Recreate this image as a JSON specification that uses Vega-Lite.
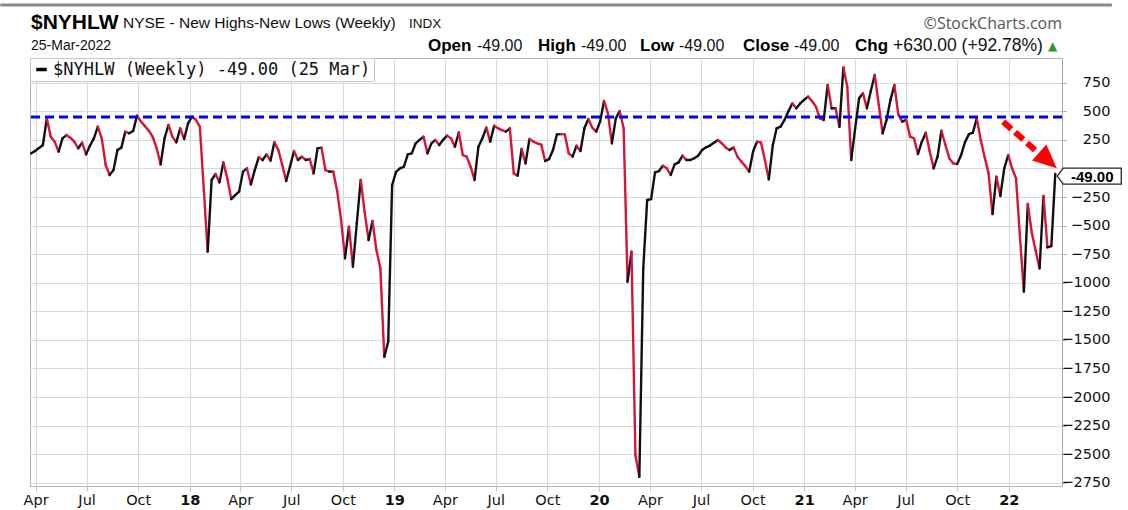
{
  "$schema": "https://vega.github.io/schema/vega-lite/v6.json",
  "width": 1032,
  "height": 428,
  "autosize": {"type": "none"},
  "padding": {"left": 30, "top": 58, "right": 66, "bottom": 24},
  "background": "white",
  "config": {"view": {"stroke": "#b4b4b4", "strokeWidth": 1}, "font": "Liberation Sans"},
  "data": {
    "format": {"parse": {"d": "date"}},
    "values": [
      {"d":"2017-03-24","v":132},{"d":"2017-03-31","v":152},{"d":"2017-04-07","v":178},{"d":"2017-04-14","v":205},{"d":"2017-04-21","v":438},{"d":"2017-04-28","v":278},{"d":"2017-05-05","v":234},{"d":"2017-05-12","v":147},{"d":"2017-05-19","v":263},{"d":"2017-05-26","v":292},
      {"d":"2017-06-02","v":269},{"d":"2017-06-09","v":234},{"d":"2017-06-16","v":176},{"d":"2017-06-23","v":225},{"d":"2017-06-30","v":123},{"d":"2017-07-07","v":200},{"d":"2017-07-14","v":263},{"d":"2017-07-21","v":365},{"d":"2017-07-28","v":263},{"d":"2017-08-04","v":30},
      {"d":"2017-08-11","v":-58},{"d":"2017-08-18","v":-14},{"d":"2017-08-25","v":161},{"d":"2017-09-01","v":182},{"d":"2017-09-08","v":322},{"d":"2017-09-15","v":307},{"d":"2017-09-22","v":327},{"d":"2017-09-29","v":462},{"d":"2017-10-06","v":410},{"d":"2017-10-13","v":370},
      {"d":"2017-10-20","v":330},{"d":"2017-10-27","v":275},{"d":"2017-11-03","v":176},{"d":"2017-11-10","v":36},{"d":"2017-11-17","v":263},{"d":"2017-11-24","v":380},{"d":"2017-12-01","v":278},{"d":"2017-12-08","v":228},{"d":"2017-12-15","v":351},{"d":"2017-12-22","v":257},
      {"d":"2017-12-29","v":395},{"d":"2018-01-05","v":453},{"d":"2018-01-12","v":424},{"d":"2018-01-19","v":365},{"d":"2018-01-26","v":-180},{"d":"2018-02-02","v":-728},{"d":"2018-02-09","v":-101},{"d":"2018-02-16","v":-49},{"d":"2018-02-23","v":-122},{"d":"2018-03-02","v":53},
      {"d":"2018-03-09","v":-87},{"d":"2018-03-16","v":-268},{"d":"2018-03-23","v":-233},{"d":"2018-03-30","v":-203},{"d":"2018-04-06","v":-28},{"d":"2018-04-13","v":1},{"d":"2018-04-20","v":-139},{"d":"2018-04-27","v":-14},{"d":"2018-05-04","v":97},{"d":"2018-05-11","v":74},
      {"d":"2018-05-18","v":123},{"d":"2018-05-25","v":68},{"d":"2018-06-01","v":228},{"d":"2018-06-08","v":161},{"d":"2018-06-15","v":30},{"d":"2018-06-22","v":-110},{"d":"2018-06-29","v":20},{"d":"2018-07-06","v":152},{"d":"2018-07-13","v":74},{"d":"2018-07-20","v":103},
      {"d":"2018-07-27","v":74},{"d":"2018-08-03","v":82},{"d":"2018-08-10","v":-43},{"d":"2018-08-17","v":176},{"d":"2018-08-24","v":182},{"d":"2018-08-31","v":-14},{"d":"2018-09-07","v":-28},{"d":"2018-09-14","v":-28},{"d":"2018-09-21","v":-200},{"d":"2018-09-28","v":-450},
      {"d":"2018-10-05","v":-786},{"d":"2018-10-12","v":-510},{"d":"2018-10-19","v":-860},{"d":"2018-10-26","v":-480},{"d":"2018-11-02","v":-101},{"d":"2018-11-09","v":-380},{"d":"2018-11-16","v":-626},{"d":"2018-11-23","v":-460},{"d":"2018-11-30","v":-714},{"d":"2018-12-07","v":-874},
      {"d":"2018-12-14","v":-1647},{"d":"2018-12-21","v":-1516},{"d":"2018-12-28","v":-145},{"d":"2019-01-04","v":-30},{"d":"2019-01-11","v":0},{"d":"2019-01-18","v":15},{"d":"2019-01-25","v":123},{"d":"2019-02-01","v":132},{"d":"2019-02-08","v":219},{"d":"2019-02-15","v":250},
      {"d":"2019-02-22","v":278},{"d":"2019-03-01","v":132},{"d":"2019-03-08","v":219},{"d":"2019-03-15","v":249},{"d":"2019-03-22","v":205},{"d":"2019-03-29","v":250},{"d":"2019-04-05","v":287},{"d":"2019-04-12","v":263},{"d":"2019-04-19","v":190},{"d":"2019-04-26","v":316},
      {"d":"2019-05-03","v":117},{"d":"2019-05-10","v":103},{"d":"2019-05-17","v":15},{"d":"2019-05-24","v":-101},{"d":"2019-05-31","v":190},{"d":"2019-06-07","v":263},{"d":"2019-06-14","v":357},{"d":"2019-06-21","v":234},{"d":"2019-06-28","v":374},{"d":"2019-07-05","v":351},
      {"d":"2019-07-12","v":335},{"d":"2019-07-19","v":322},{"d":"2019-07-26","v":351},{"d":"2019-08-02","v":-43},{"d":"2019-08-09","v":-63},{"d":"2019-08-16","v":170},{"d":"2019-08-23","v":44},{"d":"2019-08-30","v":257},{"d":"2019-09-06","v":235},{"d":"2019-09-13","v":219},
      {"d":"2019-09-20","v":208},{"d":"2019-09-27","v":65},{"d":"2019-10-04","v":82},{"d":"2019-10-11","v":161},{"d":"2019-10-18","v":298},{"d":"2019-10-25","v":300},{"d":"2019-11-01","v":298},{"d":"2019-11-08","v":132},{"d":"2019-11-15","v":103},{"d":"2019-11-22","v":199},
      {"d":"2019-11-29","v":152},{"d":"2019-12-06","v":351},{"d":"2019-12-13","v":432},{"d":"2019-12-20","v":357},{"d":"2019-12-27","v":322},{"d":"2020-01-03","v":409},{"d":"2020-01-10","v":590},{"d":"2020-01-17","v":482},{"d":"2020-01-24","v":219},{"d":"2020-01-31","v":438},
      {"d":"2020-02-07","v":502},{"d":"2020-02-14","v":351},{"d":"2020-02-21","v":-991},{"d":"2020-02-28","v":-729},{"d":"2020-03-06","v":-2508},{"d":"2020-03-13","v":-2697},{"d":"2020-03-20","v":-874},{"d":"2020-03-27","v":-276},{"d":"2020-04-03","v":-268},{"d":"2020-04-10","v":-34},
      {"d":"2020-04-17","v":-23},{"d":"2020-04-24","v":24},{"d":"2020-05-01","v":1},{"d":"2020-05-08","v":-57},{"d":"2020-05-15","v":36},{"d":"2020-05-22","v":53},{"d":"2020-05-29","v":112},{"d":"2020-06-05","v":74},{"d":"2020-06-12","v":74},{"d":"2020-06-19","v":90},
      {"d":"2020-06-26","v":112},{"d":"2020-07-03","v":161},{"d":"2020-07-10","v":185},{"d":"2020-07-17","v":200},{"d":"2020-07-24","v":225},{"d":"2020-07-31","v":249},{"d":"2020-08-07","v":220},{"d":"2020-08-14","v":184},{"d":"2020-08-21","v":161},{"d":"2020-08-28","v":184},
      {"d":"2020-09-04","v":103},{"d":"2020-09-11","v":60},{"d":"2020-09-18","v":20},{"d":"2020-09-25","v":-28},{"d":"2020-10-02","v":150},{"d":"2020-10-09","v":234},{"d":"2020-10-16","v":226},{"d":"2020-10-23","v":74},{"d":"2020-10-30","v":-96},{"d":"2020-11-06","v":200},
      {"d":"2020-11-13","v":351},{"d":"2020-11-20","v":365},{"d":"2020-11-27","v":424},{"d":"2020-12-04","v":500},{"d":"2020-12-11","v":569},{"d":"2020-12-18","v":526},{"d":"2020-12-25","v":569},{"d":"2021-01-01","v":600},{"d":"2021-01-08","v":628},{"d":"2021-01-15","v":590},
      {"d":"2021-01-22","v":540},{"d":"2021-01-29","v":438},{"d":"2021-02-05","v":424},{"d":"2021-02-12","v":730},{"d":"2021-02-19","v":526},{"d":"2021-02-26","v":526},{"d":"2021-03-05","v":365},{"d":"2021-03-12","v":884},{"d":"2021-03-19","v":715},{"d":"2021-03-26","v":74},
      {"d":"2021-04-02","v":350},{"d":"2021-04-09","v":613},{"d":"2021-04-16","v":657},{"d":"2021-04-23","v":526},{"d":"2021-04-30","v":680},{"d":"2021-05-07","v":817},{"d":"2021-05-14","v":560},{"d":"2021-05-21","v":307},{"d":"2021-05-28","v":424},{"d":"2021-06-04","v":600},
      {"d":"2021-06-11","v":730},{"d":"2021-06-18","v":470},{"d":"2021-06-25","v":409},{"d":"2021-07-02","v":424},{"d":"2021-07-09","v":278},{"d":"2021-07-16","v":263},{"d":"2021-07-23","v":126},{"d":"2021-07-30","v":234},{"d":"2021-08-06","v":313},{"d":"2021-08-13","v":150},
      {"d":"2021-08-20","v":1},{"d":"2021-08-27","v":103},{"d":"2021-09-03","v":330},{"d":"2021-09-10","v":205},{"d":"2021-09-17","v":88},{"d":"2021-09-24","v":44},{"d":"2021-10-01","v":39},{"d":"2021-10-08","v":117},{"d":"2021-10-15","v":230},{"d":"2021-10-22","v":300},
      {"d":"2021-10-29","v":313},{"d":"2021-11-05","v":438},{"d":"2021-11-12","v":249},{"d":"2021-11-19","v":100},{"d":"2021-11-26","v":-43},{"d":"2021-12-03","v":-399},{"d":"2021-12-10","v":-72},{"d":"2021-12-17","v":-241},{"d":"2021-12-24","v":0},{"d":"2021-12-31","v":117},
      {"d":"2022-01-07","v":0},{"d":"2022-01-14","v":-87},{"d":"2022-01-21","v":-600},{"d":"2022-01-28","v":-1078},{"d":"2022-02-04","v":-311},{"d":"2022-02-11","v":-560},{"d":"2022-02-18","v":-720},{"d":"2022-02-25","v":-874},{"d":"2022-03-04","v":-241},{"d":"2022-03-11","v":-690},
      {"d":"2022-03-18","v":-679},{"d":"2022-03-25","v":-49}
    ]
  },
  "layer": [
    {
      "mark": {"type": "line", "opacity": 0, "strokeWidth": 2},
      "encoding": {
        "x": {
          "field": "d", "type": "temporal",
          "scale": {"domain": [{"year": 2017, "month": 3, "date": 22}, {"year": 2022, "month": 4, "date": 6}]},
          "axis": {
            "title": null, "orient": "bottom", "grid": true, "gridColor": "#d9d9d9", "gridWidth": 1,
            "domain": false, "ticks": true, "tickColor": "#c4c4c4", "tickSize": 5, "tickCount": 40,
            "values": [
              {"year": 2017, "month": 4, "date": 1}, {"year": 2017, "month": 7, "date": 1}, {"year": 2017, "month": 10, "date": 1},
              {"year": 2018, "month": 1, "date": 1}, {"year": 2018, "month": 4, "date": 1}, {"year": 2018, "month": 7, "date": 1}, {"year": 2018, "month": 10, "date": 1},
              {"year": 2019, "month": 1, "date": 1}, {"year": 2019, "month": 4, "date": 1}, {"year": 2019, "month": 7, "date": 1}, {"year": 2019, "month": 10, "date": 1},
              {"year": 2020, "month": 1, "date": 1}, {"year": 2020, "month": 4, "date": 1}, {"year": 2020, "month": 7, "date": 1}, {"year": 2020, "month": 10, "date": 1},
              {"year": 2021, "month": 1, "date": 1}, {"year": 2021, "month": 4, "date": 1}, {"year": 2021, "month": 7, "date": 1}, {"year": 2021, "month": 10, "date": 1},
              {"year": 2022, "month": 1, "date": 1}
            ],
            "labelExpr": "month(datum.value) == 0 ? timeFormat(datum.value, '%y') : timeFormat(datum.value, '%b')",
            "labelFontWeight": {"condition": {"test": "month(datum.value) == 0", "value": "bold"}, "value": "normal"},
            "labelFont": "DejaVu Sans", "labelFontSize": 14.5, "labelColor": "#111", "labelPadding": 2,
            "labelFlush": false, "labelOverlap": false
          }
        },
        "y": {
          "field": "v", "type": "quantitative",
          "scale": {"domain": [-2778, 966], "nice": false, "zero": false},
          "axis": {
            "title": null, "orient": "right", "grid": true, "gridColor": "#d9d9d9", "gridWidth": 1,
            "values": [-2750, -2500, -2250, -2000, -1750, -1500, -1250, -1000, -750, -500, -250, 0, 250, 500, 750],
            "tickCount": 40, "format": "d", "labelOverlap": false,
            "labelExpr": "datum.value == 0 ? '' : datum.label",
            "domain": true, "domainColor": "#a8a8a8", "tickColor": "#a8a8a8", "tickSize": 4,
            "labelAlign": "right", "labelBaseline": "middle", "labelPadding": 44,
            "labelFont": "DejaVu Sans", "labelFontSize": 14.5, "labelColor": "#111"
          }
        },
        "color": {
          "datum": "$NYHLW (Weekly) -49.00 (25 Mar)", "type": "nominal",
          "scale": {"range": ["#000000"]},
          "legend": {
            "orient": "top-left", "offset": 0, "title": null, "symbolType": "stroke", "symbolStrokeWidth": 3.5,
            "symbolSize": 110, "symbolOpacity": 1, "labelFont": "DejaVu Sans Mono", "labelFontSize": 17, "labelColor": "#111",
            "fillColor": "white", "strokeColor": "#c8c8c8", "padding": 3, "labelOffset": 3, "labelLimit": 500
          }
        }
      }
    },
    {
      "transform": [
        {"window": [{"op": "lead", "field": "d", "as": "d2"}, {"op": "lead", "field": "v", "as": "v2"}], "sort": [{"field": "d", "order": "ascending"}]},
        {"filter": "datum.d2 != null"}
      ],
      "mark": {"type": "rule", "strokeWidth": 2.4, "strokeCap": "round"},
      "encoding": {
        "x": {"field": "d", "type": "temporal"},
        "x2": {"field": "d2"},
        "y": {"field": "v", "type": "quantitative"},
        "y2": {"field": "v2"},
        "color": {"condition": {"test": "datum.v2 >= datum.v", "value": "#111111"}, "value": "#d7153c"}
      }
    },
    {
      "data": {"values": [{}]},
      "mark": {"type": "rule", "color": "#0000ff", "strokeWidth": 3, "strokeDash": [9, 5]},
      "encoding": {"y": {"datum": 450}}
    },
    {
      "data": {"values": [{}]},
      "mark": {"type": "rule", "color": "#ff0000", "strokeWidth": 6, "strokeDash": [11, 5]},
      "encoding": {
        "x": {"datum": {"year": 2021, "month": 12, "date": 22}, "type": "temporal"},
        "x2": {"datum": {"year": 2022, "month": 2, "date": 17}},
        "y": {"datum": 409, "type": "quantitative"},
        "y2": {"datum": 161}
      }
    },
    {
      "data": {"values": [{}]},
      "mark": {"type": "point", "shape": "M 1 0 L -1 -0.9 L -1 0.9 Z", "size": 560, "angle": 42, "filled": true, "color": "#ff0000", "opacity": 1},
      "encoding": {
        "x": {"datum": {"year": 2022, "month": 3, "date": 12}, "type": "temporal"},
        "y": {"datum": 70, "type": "quantitative"}
      }
    },
    {
      "data": {"values": [{}]},
      "mark": {"type": "rule", "color": "#8a8a8a", "strokeWidth": 3},
      "encoding": {
        "x": {"datum": {"year": 2017, "month": 1, "date": 28}, "type": "temporal"},
        "x2": {"datum": {"year": 2022, "month": 7, "date": 4}},
        "y": {"datum": 1430, "type": "quantitative"}
      }
    },
    {
      "data": {"values": [{}]},
      "mark": {"type": "point", "shape": "M 0.2 0.2 L 0.8 -0.6 L 6.6 -0.6 L 6.6 1.0 L 0.8 1.0 Z", "size": 400, "fill": "white", "stroke": "#222222", "strokeWidth": 1.3, "opacity": 1},
      "encoding": {
        "x": {"datum": {"year": 2022, "month": 3, "date": 25}, "type": "temporal"},
        "y": {"datum": -49, "type": "quantitative"}
      }
    },
    {
      "data": {"values": [{}]},
      "mark": {"type": "text", "text": "-49.00", "font": "Liberation Sans", "fontWeight": "bold", "fontSize": 15, "color": "#000", "align": "center", "baseline": "middle", "dx": 37, "dy": 2.5},
      "encoding": {
        "x": {"datum": {"year": 2022, "month": 3, "date": 25}, "type": "temporal"},
        "y": {"datum": -49, "type": "quantitative"}
      }
    },
    {
      "data": {"values": [{}]},
      "mark": {"type": "text", "text": "$NYHLW", "fontWeight": "bold", "fontSize": 21, "color": "#000", "align": "left", "baseline": "alphabetic", "dx": 1, "dy": -29},
      "encoding": {"x": {"datum": {"year": 2017, "month": 3, "date": 22}, "type": "temporal"}, "y": {"datum": 966, "type": "quantitative"}}
    },
    {
      "data": {"values": [{}]},
      "mark": {"type": "text", "text": "NYSE - New Highs-New Lows (Weekly)", "fontSize": 15.5, "color": "#111", "align": "left", "baseline": "alphabetic", "dx": 93, "dy": -30},
      "encoding": {"x": {"datum": {"year": 2017, "month": 3, "date": 22}, "type": "temporal"}, "y": {"datum": 966, "type": "quantitative"}}
    },
    {
      "data": {"values": [{}]},
      "mark": {"type": "text", "text": "INDX", "fontSize": 13.5, "color": "#111", "align": "left", "baseline": "alphabetic", "dx": 379, "dy": -30},
      "encoding": {"x": {"datum": {"year": 2017, "month": 3, "date": 22}, "type": "temporal"}, "y": {"datum": 966, "type": "quantitative"}}
    },
    {
      "data": {"values": [{}]},
      "mark": {"type": "text", "text": "25-Mar-2022", "fontSize": 14, "color": "#111", "align": "left", "baseline": "alphabetic", "dx": 1, "dy": -8},
      "encoding": {"x": {"datum": {"year": 2017, "month": 3, "date": 22}, "type": "temporal"}, "y": {"datum": 966, "type": "quantitative"}}
    },
    {
      "data": {"values": [{}]},
      "mark": {"type": "text", "text": "Open", "fontWeight": "bold", "fontSize": 17, "color": "#000", "align": "left", "baseline": "alphabetic", "dx": 398, "dy": -7},
      "encoding": {"x": {"datum": {"year": 2017, "month": 3, "date": 22}, "type": "temporal"}, "y": {"datum": 966, "type": "quantitative"}}
    },
    {
      "data": {"values": [{}]},
      "mark": {"type": "text", "text": "-49.00", "fontSize": 16, "color": "#111", "align": "left", "baseline": "alphabetic", "dx": 447, "dy": -7},
      "encoding": {"x": {"datum": {"year": 2017, "month": 3, "date": 22}, "type": "temporal"}, "y": {"datum": 966, "type": "quantitative"}}
    },
    {
      "data": {"values": [{}]},
      "mark": {"type": "text", "text": "High", "fontWeight": "bold", "fontSize": 17, "color": "#000", "align": "left", "baseline": "alphabetic", "dx": 508, "dy": -7},
      "encoding": {"x": {"datum": {"year": 2017, "month": 3, "date": 22}, "type": "temporal"}, "y": {"datum": 966, "type": "quantitative"}}
    },
    {
      "data": {"values": [{}]},
      "mark": {"type": "text", "text": "-49.00", "fontSize": 16, "color": "#111", "align": "left", "baseline": "alphabetic", "dx": 551, "dy": -7},
      "encoding": {"x": {"datum": {"year": 2017, "month": 3, "date": 22}, "type": "temporal"}, "y": {"datum": 966, "type": "quantitative"}}
    },
    {
      "data": {"values": [{}]},
      "mark": {"type": "text", "text": "Low", "fontWeight": "bold", "fontSize": 17, "color": "#000", "align": "left", "baseline": "alphabetic", "dx": 610, "dy": -7},
      "encoding": {"x": {"datum": {"year": 2017, "month": 3, "date": 22}, "type": "temporal"}, "y": {"datum": 966, "type": "quantitative"}}
    },
    {
      "data": {"values": [{}]},
      "mark": {"type": "text", "text": "-49.00", "fontSize": 16, "color": "#111", "align": "left", "baseline": "alphabetic", "dx": 649, "dy": -7},
      "encoding": {"x": {"datum": {"year": 2017, "month": 3, "date": 22}, "type": "temporal"}, "y": {"datum": 966, "type": "quantitative"}}
    },
    {
      "data": {"values": [{}]},
      "mark": {"type": "text", "text": "Close", "fontWeight": "bold", "fontSize": 17, "color": "#000", "align": "left", "baseline": "alphabetic", "dx": 713, "dy": -7},
      "encoding": {"x": {"datum": {"year": 2017, "month": 3, "date": 22}, "type": "temporal"}, "y": {"datum": 966, "type": "quantitative"}}
    },
    {
      "data": {"values": [{}]},
      "mark": {"type": "text", "text": "-49.00", "fontSize": 16, "color": "#111", "align": "left", "baseline": "alphabetic", "dx": 764, "dy": -7},
      "encoding": {"x": {"datum": {"year": 2017, "month": 3, "date": 22}, "type": "temporal"}, "y": {"datum": 966, "type": "quantitative"}}
    },
    {
      "data": {"values": [{}]},
      "mark": {"type": "text", "text": "Chg", "fontWeight": "bold", "fontSize": 17, "color": "#000", "align": "left", "baseline": "alphabetic", "dx": 825, "dy": -7},
      "encoding": {"x": {"datum": {"year": 2017, "month": 3, "date": 22}, "type": "temporal"}, "y": {"datum": 966, "type": "quantitative"}}
    },
    {
      "data": {"values": [{}]},
      "mark": {"type": "text", "text": "+630.00 (+92.78%)", "fontSize": 17.5, "color": "#111", "align": "left", "baseline": "alphabetic", "dx": 863, "dy": -7},
      "encoding": {"x": {"datum": {"year": 2017, "month": 3, "date": 22}, "type": "temporal"}, "y": {"datum": 966, "type": "quantitative"}}
    },
    {
      "data": {"values": [{}]},
      "mark": {"type": "text", "text": "▲", "font": "DejaVu Sans", "fontSize": 12, "color": "#2e9a2e", "align": "left", "baseline": "alphabetic", "dx": 1018, "dy": -8},
      "encoding": {"x": {"datum": {"year": 2017, "month": 3, "date": 22}, "type": "temporal"}, "y": {"datum": 966, "type": "quantitative"}}
    },
    {
      "data": {"values": [{}]},
      "mark": {"type": "text", "text": "©StockCharts.com", "font": "Open Sans", "fontSize": 16, "color": "#555", "align": "right", "baseline": "alphabetic", "dx": 0, "dy": -29},
      "encoding": {"x": {"datum": {"year": 2022, "month": 4, "date": 6}, "type": "temporal"}, "y": {"datum": 966, "type": "quantitative"}}
    }
  ]
}
